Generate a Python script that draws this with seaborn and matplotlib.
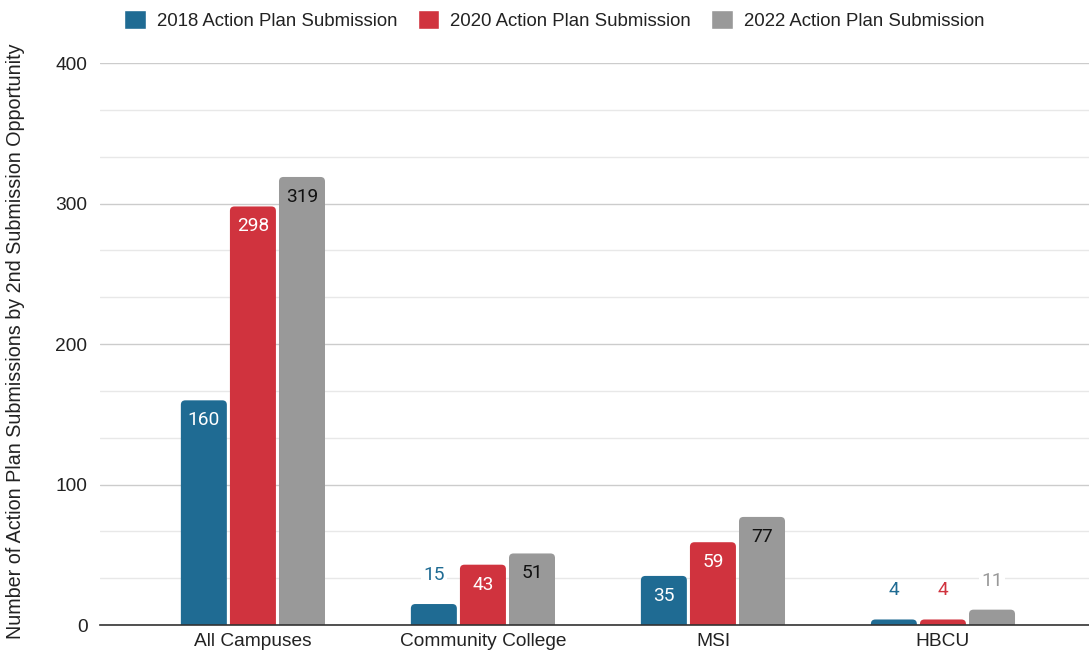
import matplotlib
matplotlib.use("Agg")
import matplotlib.pyplot as plt
from matplotlib.patches import FancyBboxPatch
from matplotlib.ticker import MultipleLocator
import seaborn as sns
import pandas as pd
import numpy as np

categories = ["All Campuses", "Community College", "MSI", "HBCU"]
series_names = ["2018 Action Plan Submission", "2020 Action Plan Submission", "2022 Action Plan Submission"]
values_2018 = [160, 15, 35, 4]
values_2020 = [298, 43, 59, 4]
values_2022 = [319, 51, 77, 11]
colors = ["#1f6b93", "#d0333e", "#999999"]
inside_text = ["white", "white", "#111111"]
y_label = "Number of Action Plan Submissions by 2nd Submission Opportunity"

rows = []
for s, vals in zip(series_names, [values_2018, values_2020, values_2022]):
    for c, v in zip(categories, vals):
        rows.append({"Category": c, "Series": s, "Value": v})
df = pd.DataFrame(rows)

sns.set_theme(style="white")
plt.rcParams['font.family'] = ['Liberation Sans', 'DejaVu Sans']

fig = plt.figure(figsize=(10.89, 6.58), dpi=100)
ax = fig.add_axes([0.0918, 0.05, 0.9082, 0.854])

sns.barplot(data=df, x="Category", y="Value", hue="Series", order=categories,
            hue_order=series_names, palette=colors, ax=ax, width=0.64,
            saturation=1, legend=True)

ax.set_ylim(0, 400)
ax.set_xlim(-0.665, 3.635)

# rounded bars, narrower with small gaps
bar_w = 0.2
px_per_x = 989 / 4.3
px_per_y = 562 / 400
r_x = 4.5 / px_per_x
aspect = (4.5 / px_per_y) / r_x
for i, (cont, col) in enumerate(zip(ax.containers, colors)):
    for j, p in enumerate(cont.patches):
        cx = p.get_x() + p.get_width() / 2
        h = p.get_height()
        p.set_visible(False)
        fb = FancyBboxPatch((cx - bar_w / 2, -8), bar_w, h + 8,
                            boxstyle=f"round,pad=0,rounding_size={r_x}",
                            mutation_aspect=aspect, facecolor=col,
                            edgecolor="none", zorder=3, clip_on=True)
        ax.add_patch(fb)
        v = h
        if v >= 30:
            ax.annotate(f"{int(v)}", (cx, v), xytext=(0, -20), textcoords="offset pixels",
                        ha="center", va="center", color=inside_text[i],
                        fontsize=13.8, family=["Roboto", "DejaVu Sans"], zorder=5)
        else:
            ax.annotate(f"{int(v)}", (cx, v), xytext=(0, 29), textcoords="offset pixels",
                        ha="center", va="center", color=col,
                        fontsize=13.8, family=["Roboto", "DejaVu Sans"], zorder=5,
                        bbox=dict(boxstyle="square,pad=0.1", fc="white", ec="none"))

ax.yaxis.set_major_locator(MultipleLocator(100))
ax.yaxis.set_minor_locator(MultipleLocator(100 / 3))
ax.grid(axis="y", which="major", color="#cccccc", linewidth=1, zorder=0)
ax.grid(axis="y", which="minor", color="#e8e8e8", linewidth=1, zorder=0)
ax.set_axisbelow(True)
for s in ["left", "right", "top"]:
    ax.spines[s].set_visible(False)
ax.spines["bottom"].set_color("#333333")
ax.spines["bottom"].set_linewidth(1.2)
ax.spines["bottom"].set_zorder(4)
ax.tick_params(axis="both", which="both", length=0, labelsize=13.8, colors="#222222", pad=9)
ax.tick_params(axis="x", pad=6)
ax.set_xlabel("")
ax.set_ylabel(y_label, fontsize=14.2, color="#222222")
ax.yaxis.set_label_coords(-0.076, 0.505)

handles, labels = ax.get_legend_handles_labels()
ax.get_legend().remove()
fig.legend(handles, labels, loc="upper center", bbox_to_anchor=(0.509, 1.01), ncol=3,
           frameon=False, fontsize=13.4, handlelength=1.15, handleheight=1.15,
           handletextpad=0.6, columnspacing=1.1, labelcolor="#222222")

fig.savefig("out.png", dpi=100)
